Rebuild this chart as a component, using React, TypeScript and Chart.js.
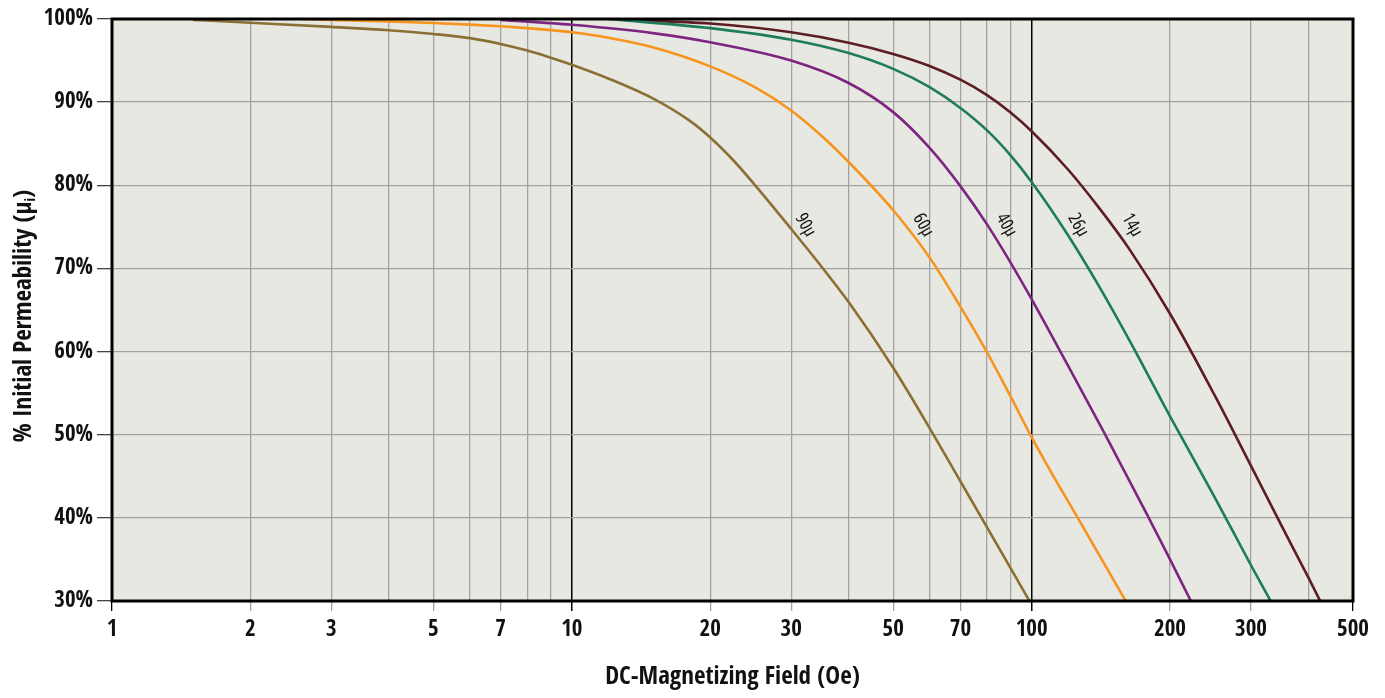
import React, { useEffect, useRef } from "react";
import { Chart, registerables } from "chart.js";

Chart.register(...registerables);

const FONT = '"Open Sans Condensed", "Roboto Condensed", sans-serif';
const LABEL_FONT = 'condensed 18px "Open Sans", "Roboto Condensed", sans-serif';

// Axis tick values
const xGridValues = [1, 2, 3, 4, 5, 6, 7, 8, 9, 10, 20, 30, 40, 50, 60, 70, 80, 90, 100, 200, 300, 400, 500];
const xTickLabels = [1, 2, 3, 5, 7, 10, 20, 30, 50, 70, 100, 200, 300, 500];
const yTickValues = [30, 40, 50, 60, 70, 80, 90, 100];

// 90µ
const field90 = [1.5, 2, 3, 4, 5, 6, 7, 8, 9, 10, 12, 15, 18, 20, 22.5, 25, 30, 35, 40, 50, 60, 70, 80, 90, 100];
const perm90 = [99.9, 99.55, 99.05, 98.65, 98.2, 97.7, 97.0, 96.2, 95.35, 94.5, 92.85, 90.45, 87.8, 85.75, 82.95, 80.05, 74.75, 70.15, 65.95, 58.05, 50.8, 44.4, 38.85, 33.95, 29.55];
// 60µ
const field60 = [2.6, 3, 4, 5, 6, 7, 8, 9, 10, 12, 15, 20, 25, 30, 35, 40, 50, 60, 70, 80, 90, 100, 110, 126, 140, 161];
const perm60 = [100, 99.88, 99.72, 99.52, 99.32, 99.12, 98.9, 98.66, 98.4, 97.75, 96.6, 94.3, 91.8, 89.0, 85.9, 82.8, 77.0, 71.3, 65.4, 59.9, 54.6, 49.7, 45.6, 40.0, 35.6, 29.8];
// 40µ
const field40 = [7, 10, 15, 20, 30, 40, 50, 60, 70, 80, 90, 100, 120, 144, 179, 200, 222];
const perm40 = [99.9, 99.3, 98.3, 97.2, 95.0, 92.3, 88.8, 84.5, 79.9, 75.3, 70.7, 66.3, 58.3, 50.2, 40.2, 35.0, 30];
// 26µ
const field26 = [12, 20, 30, 40, 50, 60, 70, 80, 90, 100, 120, 139, 166, 200, 250, 300, 331];
const perm26 = [100, 98.9, 97.5, 95.9, 94.0, 91.8, 89.3, 86.6, 83.6, 80.4, 74.0, 68.2, 60.6, 52.2, 42.5, 34.3, 30];
// 14µ
const field14 = [13, 20, 30, 40, 50, 60, 70, 80, 90, 100, 120, 141, 163, 200, 250, 300, 350, 400, 426];
const perm14 = [99.9, 99.45, 98.4, 97.15, 95.8, 94.35, 92.7, 90.85, 88.75, 86.5, 81.9, 77.1, 72.35, 64.55, 54.75, 46.25, 39.0, 32.8, 29.8];

const seriesNames = ["90µ", "60µ", "40µ", "26µ", "14µ"];
const seriesFields = [field90, field60, field40, field26, field14];
const seriesPerms = [perm90, perm60, perm40, perm26, perm14];
const seriesColors = ["#8a7034", "#f7941d", "#7e2581", "#1d7c5a", "#5c1e22"];

// Curve label anchors (data coordinates)
const labelField = [32.2, 58.1, 88.1, 126.2, 165.3];
const labelPerm = [75.2, 75.2, 75.2, 75.2, 75.2];

const xTitle = "DC-Magnetizing Field (Oe)";
const yTitleMain = "% Initial Permeability (µ";
const yTitleSub = "i";
const yTitleEnd = ")";

const BG = "#e8e8e3";
const GRID = "#a2a2a2";

export default function App() {
  const ref = useRef<HTMLCanvasElement | null>(null);

  useEffect(() => {
    const canvas = ref.current;
    if (!canvas) return;

    const bgPlugin = {
      id: "bgPlugin",
      beforeDraw(chart: any) {
        const { ctx, chartArea } = chart;
        ctx.save();
        ctx.fillStyle = BG;
        ctx.fillRect(chartArea.left, chartArea.top, chartArea.right - chartArea.left, chartArea.bottom - chartArea.top);
        ctx.restore();
      },
    };

    const decoPlugin = {
      id: "decoPlugin",
      afterDatasetsDraw(chart: any) {
        const { ctx, chartArea, scales } = chart;
        ctx.save();
        // frame
        ctx.strokeStyle = "#000";
        ctx.lineWidth = 3;
        ctx.strokeRect(chartArea.left, chartArea.top, chartArea.right - chartArea.left, chartArea.bottom - chartArea.top);

        // curve labels
        ctx.fillStyle = "#111";
        ctx.font = LABEL_FONT;
        ctx.textAlign = "center";
        ctx.textBaseline = "middle";
        for (let i = 0; i < seriesNames.length; i++) {
          const px = scales.x.getPixelForValue(labelField[i]);
          const py = scales.y.getPixelForValue(labelPerm[i]);
          ctx.save();
          ctx.translate(px, py);
          ctx.rotate((60 * Math.PI) / 180);
          ctx.fillText(seriesNames[i], 0, 0);
          ctx.restore();
        }

        // y axis title with subscript
        const cy = (chartArea.top + chartArea.bottom) / 2 + 6;
        ctx.save();
        ctx.translate(24, cy);
        ctx.rotate(-Math.PI / 2);
        ctx.fillStyle = "#111";
        ctx.textAlign = "left";
        ctx.textBaseline = "middle";
        const mainFont = `bold 25px ${FONT}`;
        const subFont = `bold 15px ${FONT}`;
        ctx.font = mainFont;
        const w1 = ctx.measureText(yTitleMain).width;
        const w3 = ctx.measureText(yTitleEnd).width;
        ctx.font = subFont;
        const w2 = ctx.measureText(yTitleSub).width;
        let x = -(w1 + w2 + w3) / 2;
        ctx.font = mainFont;
        ctx.fillText(yTitleMain, x, 0);
        x += w1;
        ctx.font = subFont;
        ctx.fillText(yTitleSub, x, 7);
        x += w2;
        ctx.font = mainFont;
        ctx.fillText(yTitleEnd, x, 0);
        ctx.restore();

        ctx.restore();
      },
    };

    const datasets = seriesNames.map((name, i) => ({
      label: name,
      data: seriesFields[i].map((f, j) => ({ x: f, y: seriesPerms[i][j] })),
      borderColor: seriesColors[i],
      backgroundColor: seriesColors[i],
      borderWidth: 2.6,
      pointRadius: 0,
      cubicInterpolationMode: "monotone" as const,
      fill: false,
    }));

    const isLabeled = (v: number) => xTickLabels.includes(Number(v));

    const chart = new Chart(canvas, {
      type: "line",
      data: { datasets },
      options: {
        animation: false,
        responsive: false,
        devicePixelRatio: 1,
        layout: { padding: { top: 19, right: 32, left: 0, bottom: 0 } },
        plugins: {
          legend: { display: false },
          tooltip: { enabled: false },
        },
        scales: {
          x: {
            type: "logarithmic",
            min: 1,
            max: 500,
            afterBuildTicks: (scale: any) => {
              scale.ticks = xGridValues.map((v) => ({ value: v }));
            },
            afterFit: (scale: any) => {
              scale.height = 97;
            },
            border: { display: false },
            grid: {
              drawTicks: true,
              tickLength: 10,
              lineWidth: (c: any) => (c.tick && (c.tick.value === 10 || c.tick.value === 100) ? 1.5 : 1.3),
              color: (c: any) => (c.tick && (c.tick.value === 10 || c.tick.value === 100) ? "#000" : GRID),
              tickColor: (c: any) =>
                c.tick && isLabeled(c.tick.value)
                  ? c.tick.value === 10 || c.tick.value === 100 || c.tick.value === 1 || c.tick.value === 500
                    ? "#000"
                    : GRID
                  : "rgba(0,0,0,0)",
            },
            ticks: {
              autoSkip: false,
              maxRotation: 0,
              minRotation: 0,
              padding: 5,
              color: "#111",
              font: { family: FONT, size: 23, weight: "bold" },
              callback: (v: any) => (isLabeled(Number(v)) ? String(v) : ""),
            },
            title: {
              display: true,
              text: xTitle,
              color: "#111",
              font: { family: FONT, size: 25, weight: "bold" },
              padding: { top: 0, bottom: 6 },
            },
          },
          y: {
            type: "linear",
            min: 30,
            max: 100,
            afterBuildTicks: (scale: any) => {
              scale.ticks = yTickValues.map((v) => ({ value: v }));
            },
            afterFit: (scale: any) => {
              scale.width = 112;
            },
            border: { display: false },
            grid: {
              drawTicks: true,
              tickLength: 15,
              lineWidth: 1.3,
              color: GRID,
              tickColor: "#444",
            },
            ticks: {
              padding: 4,
              color: "#111",
              font: { family: FONT, size: 23, weight: "bold" },
              callback: (v: any) => `${v}%`,
            },
            title: { display: false },
          },
        },
      },
      plugins: [bgPlugin, decoPlugin],
    });

    return () => chart.destroy();
  }, []);

  return (
    <div style={{ position: "fixed", left: 0, top: 0, width: 1385, height: 698, background: "#fff" }}>
      <canvas ref={ref} width={1385} height={698} style={{ display: "block", width: 1385, height: 698 }} />
    </div>
  );
}
